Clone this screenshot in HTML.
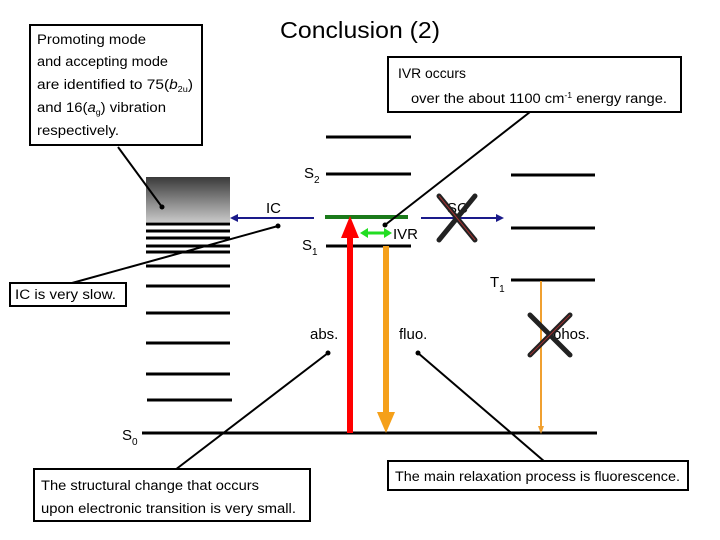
<!DOCTYPE html>
<html><head><meta charset="utf-8"><style>
html,body{margin:0;padding:0;background:#fff;}
svg{display:block;font-family:"Liberation Sans",sans-serif;}
</style></head><body>
<svg width="720" height="540" viewBox="0 0 720 540" xmlns="http://www.w3.org/2000/svg">
<defs>
<linearGradient id="g" x1="0" y1="0" x2="0" y2="1"><stop offset="0" stop-color="#3a3a3a"/><stop offset="1" stop-color="#c8c8c8"/></linearGradient>
</defs>
<text x="360" y="38" font-size="23" text-anchor="middle" fill="#000" textLength="160" lengthAdjust="spacingAndGlyphs">Conclusion (2)</text>

<rect x="146" y="177" width="84" height="45" fill="url(#g)"/>
<g stroke="#000" stroke-width="3">
<line x1="146" y1="224" x2="230" y2="224"/><line x1="146" y1="231" x2="230" y2="231"/>
<line x1="146" y1="238" x2="230" y2="238"/><line x1="146" y1="246" x2="230" y2="246"/>
<line x1="146" y1="252" x2="230" y2="252"/><line x1="146" y1="266" x2="230" y2="266"/>
<line x1="146" y1="286" x2="230" y2="286"/><line x1="146" y1="313" x2="230" y2="313"/>
<line x1="146" y1="343" x2="230" y2="343"/><line x1="146" y1="374" x2="230" y2="374"/>
<line x1="147" y1="400" x2="232" y2="400"/>
<line x1="142" y1="433" x2="597" y2="433"/>
<line x1="326" y1="137" x2="411" y2="137"/><line x1="326" y1="174" x2="411" y2="174"/>
<line x1="326" y1="246" x2="411" y2="246"/>
<line x1="511" y1="175" x2="595" y2="175"/><line x1="511" y1="228" x2="595" y2="228"/><line x1="511" y1="280" x2="595" y2="280"/>
</g>
<line x1="325" y1="217" x2="408" y2="217" stroke="#1a7a1a" stroke-width="4"/>

<line x1="350" y1="433" x2="350" y2="235" stroke="#f00" stroke-width="6"/>
<polygon points="350,216 341,238 359,238" fill="#f00"/>
<line x1="386" y1="246" x2="386" y2="415" stroke="#f5a01a" stroke-width="6"/>
<polygon points="386,433 377,412 395,412" fill="#f5a01a"/>
<line x1="541" y1="281" x2="541" y2="430" stroke="#f0a030" stroke-width="2"/>
<polygon points="541,434 538,426 544,426" fill="#f0a030"/>
<line x1="364" y1="233" x2="388" y2="233" stroke="#22dd22" stroke-width="3"/>
<polygon points="360,233 368,228 368,238" fill="#22dd22"/><polygon points="392,233 384,228 384,238" fill="#22dd22"/>
<line x1="236" y1="218" x2="314" y2="218" stroke="#1a1a8a" stroke-width="2"/>
<polygon points="230,218 238,214 238,222" fill="#1a1a8a"/>
<line x1="421" y1="218" x2="498" y2="218" stroke="#1a1a8a" stroke-width="2"/>
<polygon points="504,218 496,214 496,222" fill="#1a1a8a"/>

<g font-size="15" fill="#000">
<text x="304" y="178">S<tspan font-size="10" dy="5">2</tspan></text>
<text x="302" y="250">S<tspan font-size="10" dy="5">1</tspan></text>
<text x="122" y="440">S<tspan font-size="10" dy="5">0</tspan></text>
<text x="490" y="287">T<tspan font-size="10" dy="5">1</tspan></text>
<text x="266" y="213">IC</text>
<text x="447" y="213">SC</text>
<text x="393" y="239">IVR</text>
<text x="310" y="339">abs.</text>
<text x="399" y="339">fluo.</text>
<text x="553" y="339">phos.</text>
</g>
<g stroke="#222" stroke-width="5" stroke-linecap="round">
<line x1="439" y1="196" x2="475" y2="240"/><line x1="475" y1="196" x2="439" y2="240"/>
<line x1="530" y1="315" x2="570" y2="355"/><line x1="570" y1="315" x2="530" y2="355"/>
</g>
<g stroke="#a03030" stroke-width="1">
<line x1="439" y1="196" x2="475" y2="240"/><line x1="530" y1="355" x2="570" y2="315"/>
</g>

<g stroke="#000" stroke-width="2">
<line x1="118" y1="147" x2="162" y2="207"/>
<line x1="72" y1="283" x2="278" y2="226"/>
<line x1="530" y1="112" x2="385" y2="225"/>
<line x1="328" y1="353" x2="175" y2="470"/>
<line x1="418" y1="353" x2="545" y2="462"/>
</g>
<g fill="#000">
<circle cx="162" cy="207" r="2.5"/><circle cx="278" cy="226" r="2.5"/><circle cx="385" cy="225" r="2.5"/>
<circle cx="328" cy="353" r="2.5"/><circle cx="418" cy="353" r="2.5"/>
</g>

<g fill="#fff" stroke="#000" stroke-width="2">
<rect x="30" y="25" width="172" height="120"/>
<rect x="388" y="57" width="293" height="55"/>
<rect x="10" y="283" width="116" height="23"/>
<rect x="34" y="469" width="276" height="52"/>
<rect x="388" y="461" width="300" height="29"/>
</g>
<g font-size="13.5" fill="#000">
<text x="37" y="44" textLength="109" lengthAdjust="spacingAndGlyphs">Promoting mode</text>
<text x="37" y="66" textLength="131" lengthAdjust="spacingAndGlyphs">and accepting mode</text>
<text x="37" y="89" textLength="156" lengthAdjust="spacingAndGlyphs">are identified to 75(<tspan font-style="italic">b</tspan><tspan font-size="8" dy="3">2u</tspan><tspan dy="-3">)</tspan></text>
<text x="37" y="112" textLength="129" lengthAdjust="spacingAndGlyphs">and 16(<tspan font-style="italic">a</tspan><tspan font-size="8" dy="3">g</tspan><tspan dy="-3">) vibration</tspan></text>
<text x="37" y="135" textLength="82" lengthAdjust="spacingAndGlyphs">respectively.</text>
<text x="398" y="78" textLength="68" lengthAdjust="spacingAndGlyphs">IVR occurs</text>
<text x="411" y="103" textLength="256" lengthAdjust="spacingAndGlyphs">over the about 1100 cm<tspan font-size="8" dy="-5">-1</tspan><tspan dy="5"> energy range.</tspan></text>
<text x="15" y="299" textLength="101" lengthAdjust="spacingAndGlyphs">IC is very slow.</text>
<text x="41" y="490" textLength="218" lengthAdjust="spacingAndGlyphs">The structural change that occurs</text>
<text x="41" y="513" textLength="255" lengthAdjust="spacingAndGlyphs">upon electronic transition is very small.</text>
<text x="395" y="481" textLength="285" lengthAdjust="spacingAndGlyphs">The main relaxation process is fluorescence.</text>
</g>
</svg>
</body></html>
